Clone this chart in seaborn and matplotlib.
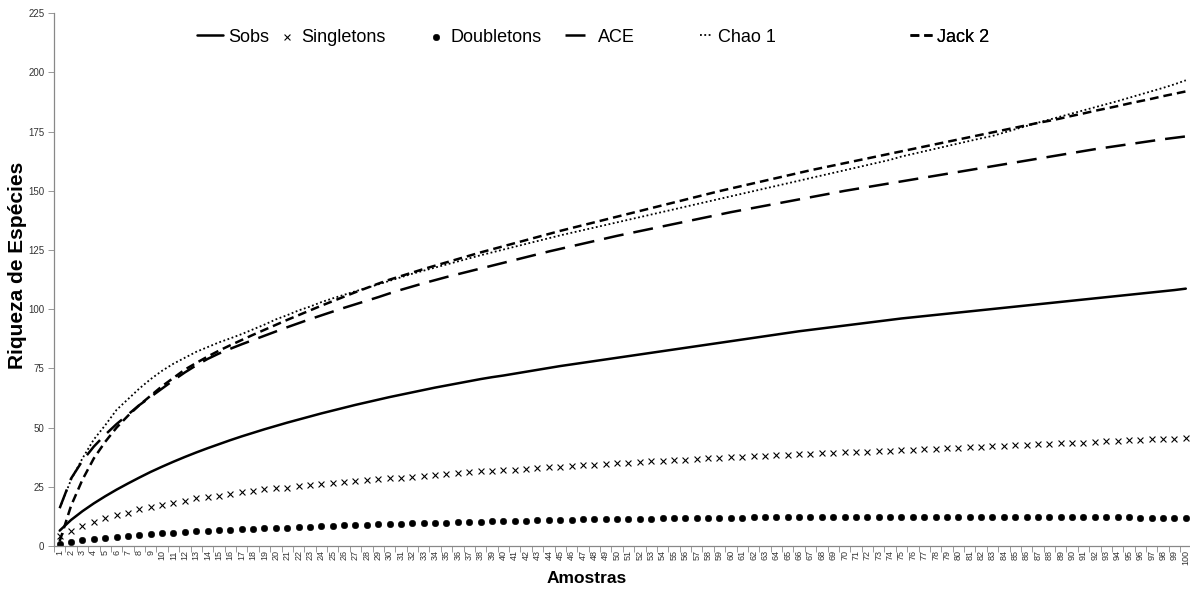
import numpy as np
import pandas as pd
import seaborn as sns
import matplotlib.pyplot as plt

amostras = list(range(1, 101))

sobs = [6.5, 11, 14.7, 18, 21, 23.8, 26.4, 28.9, 31.3, 33.5,
        35.6, 37.6, 39.5, 41.3, 43, 44.7, 46.3, 47.8, 49.3, 50.7,
        52.1, 53.4, 54.7, 56, 57.2, 58.4, 59.6, 60.7, 61.8, 62.9,
        63.9, 64.9, 65.9, 66.9, 67.8, 68.7, 69.6, 70.5, 71.3, 72,
        72.8, 73.6, 74.4, 75.2, 76, 76.7, 77.4, 78.1, 78.8, 79.5,
        80.2, 80.9, 81.6, 82.3, 83, 83.7, 84.4, 85.1, 85.8, 86.5,
        87.2, 87.9, 88.6, 89.3, 90, 90.7, 91.3, 91.9, 92.5, 93.1,
        93.7, 94.3, 94.9, 95.5, 96.1, 96.6, 97.1, 97.6, 98.1, 98.6,
        99.1, 99.6, 100.1, 100.6, 101.1, 101.6, 102.1, 102.6, 103.1, 103.6,
        104.1, 104.6, 105.1, 105.6, 106.1, 106.6, 107.1, 107.6, 108.1, 108.7]

singletons = [4.1, 6.4, 8.6, 10.3, 12, 13.1, 14.1, 15.6, 16.4, 17.4,
              18.3, 19.1, 20.1, 20.7, 21.3, 22, 22.6, 23.3, 23.9, 24.3,
              24.7, 25.3, 25.9, 26.3, 26.6, 27.1, 27.5, 27.9, 28.2, 28.6,
              28.8, 29.3, 29.7, 30.1, 30.4, 30.8, 31.1, 31.5, 31.7, 32,
              32.3, 32.6, 32.9, 33.2, 33.5, 33.8, 34.1, 34.3, 34.6, 34.9,
              35.2, 35.5, 35.7, 36, 36.2, 36.5, 36.7, 37, 37.2, 37.4,
              37.7, 37.9, 38.1, 38.3, 38.5, 38.7, 38.9, 39.1, 39.3, 39.5,
              39.7, 39.9, 40.1, 40.3, 40.5, 40.7, 40.9, 41.1, 41.3, 41.5,
              41.7, 41.9, 42.1, 42.3, 42.5, 42.7, 42.9, 43.1, 43.3, 43.6,
              43.7, 43.9, 44.2, 44.4, 44.6, 44.8, 45, 45.2, 45.4, 45.7]

doubletons = [1, 1.7, 2.4, 3, 3.5, 4, 4.4, 4.8, 5.1, 5.4,
              5.7, 6, 6.2, 6.4, 6.6, 6.8, 7, 7.2, 7.4, 7.6,
              7.8, 8, 8.2, 8.4, 8.5, 8.7, 8.8, 9, 9.1, 9.3,
              9.4, 9.6, 9.7, 9.8, 9.9, 10.1, 10.2, 10.3, 10.4, 10.5,
              10.6, 10.7, 10.8, 10.9, 11, 11.1, 11.2, 11.3, 11.3, 11.4,
              11.5, 11.5, 11.6, 11.7, 11.7, 11.8, 11.8, 11.9, 11.9, 12,
              12, 12.1, 12.1, 12.1, 12.2, 12.2, 12.2, 12.3, 12.3, 12.3,
              12.3, 12.4, 12.4, 12.4, 12.4, 12.4, 12.4, 12.4, 12.4, 12.4,
              12.4, 12.4, 12.4, 12.4, 12.4, 12.4, 12.4, 12.4, 12.3, 12.3,
              12.2, 12.2, 12.2, 12.1, 12.1, 12, 12, 12, 11.9, 11.9]

ace = [16, 28.5, 36, 42, 47, 51.5, 55.5, 59.5, 63, 66.5,
       70, 73.3, 76.3, 79, 81.3, 83.3, 85.2, 87, 88.8, 90.6,
       92.4, 94.1, 95.8, 97.4, 99, 100.6, 102.1, 103.6, 105.1, 106.7,
       108.2, 109.6, 111, 112.3, 113.6, 114.8, 116, 117.2, 118.4, 119.6,
       120.8, 122, 123.2, 124.4, 125.5, 126.6, 127.7, 128.8, 129.9, 131,
       132, 133, 134, 135, 136, 137, 138, 139, 140, 141,
       141.9, 142.8, 143.7, 144.6, 145.5, 146.4, 147.3, 148.2, 149.1, 150,
       150.8, 151.6, 152.4, 153.2, 154, 154.8, 155.6, 156.4, 157.2, 158,
       158.8, 159.6, 160.4, 161.2, 162, 162.8, 163.6, 164.4, 165.2, 166,
       166.8, 167.6, 168.3, 169, 169.7, 170.4, 171.1, 171.8, 172.4, 173]

chao1 = [16, 28, 37, 45, 51, 57.5, 62, 66.5, 70.5, 74,
         77, 79.5, 82, 84, 86, 87.7, 89.5, 91.5, 93.5, 95.7,
         97.5, 99.5, 101.1, 103, 104.6, 106.1, 107.6, 109, 110.5, 112,
         113.5, 115, 116.3, 117.6, 118.9, 120.2, 121.5, 122.8, 124, 125.2,
         126.4, 127.6, 128.8, 130, 131.2, 132.3, 133.4, 134.5, 135.6, 136.7,
         137.8, 138.9, 140, 141.1, 142.2, 143.3, 144.4, 145.5, 146.6, 147.7,
         148.8, 149.9, 151, 152.1, 153.2, 154.3, 155.4, 156.5, 157.6, 158.7,
         159.8, 160.9, 162, 163.1, 164.5, 165.6, 166.7, 167.8, 168.9, 170,
         171.1, 172.2, 173.2, 174.6, 176, 177.4, 178.8, 180.1, 181.4, 182.7,
         184, 185.3, 186.6, 187.9, 189.3, 190.7, 192.1, 193.5, 195, 196.7]

jack2 = [2, 17, 28, 37, 44, 50, 55, 59.5, 63.5, 67.5,
         71, 74.5, 77.3, 80, 82.5, 84.8, 87, 89.2, 91.3, 93.4,
         95.5, 97.5, 99.5, 101.5, 103.4, 105.3, 107.2, 109, 110.8, 112.5,
         114, 115.5, 117, 118.4, 119.8, 121.2, 122.6, 124, 125.3, 126.6,
         127.9, 129.2, 130.5, 131.8, 133.1, 134.3, 135.5, 136.7, 137.9, 139.1,
         140.3, 141.5, 142.7, 143.9, 145.1, 146.3, 147.5, 148.7, 149.9, 151,
         152.1, 153.2, 154.3, 155.4, 156.5, 157.6, 158.7, 159.7, 160.7, 161.7,
         162.7, 163.7, 164.7, 165.7, 166.7, 167.7, 168.7, 169.7, 170.7, 171.7,
         172.7, 173.7, 174.7, 175.7, 176.7, 177.7, 178.7, 179.6, 180.6, 181.7,
         182.7, 183.8, 184.8, 185.8, 186.9, 187.9, 188.9, 190, 191, 192]

df = pd.DataFrame({"Amostras": amostras, "Sobs": sobs, "Singletons": singletons,
                   "Doubletons": doubletons, "ACE": ace, "Chao 1": chao1, "Jack 2": jack2})

sns.set_theme(style="white")
plt.rcParams['font.family'] = ['Liberation Sans', 'DejaVu Sans']

fig = plt.figure(figsize=(11.9, 5.92), dpi=100)
ax = fig.add_axes([54 / 1190, 46 / 592, 1137.5 / 1190, 532.7 / 592])

# lines
sns.lineplot(data=df, x="Amostras", y="Sobs", ax=ax, color="black", lw=1.8, label="Sobs")
sns.lineplot(data=df, x="Amostras", y="ACE", ax=ax, color="black", lw=1.8,
             linestyle=(0, (8, 4)), label="ACE")
sns.lineplot(data=df, x="Amostras", y="Chao 1", ax=ax, color="black", lw=1.3,
             linestyle=(0, (1, 1.4)), label="Chao 1")
sns.lineplot(data=df, x="Amostras", y="Jack 2", ax=ax, color="black", lw=1.8,
             linestyle=(0, (3.5, 2)), label="Jack 2")
# markers
sns.scatterplot(data=df, x="Amostras", y="Singletons", ax=ax, marker="x", s=18,
                color="black", linewidth=0.8, label="Singletons")
sns.scatterplot(data=df, x="Amostras", y="Doubletons", ax=ax, marker="o", s=22,
                color="black", edgecolor="black", label="Doubletons")

ax.set_xlim(0.5, 100.5)
ax.set_ylim(0, 225)
ax.set_yticks(range(0, 226, 25))
ax.set_xticks(amostras)
ax.set_xticklabels([str(a) for a in amostras], rotation=90)
ax.set_xticks(np.arange(0.5, 101, 1), minor=True)
ax.tick_params(axis="x", which="major", length=0, labelsize=6.5, pad=3, colors="#333333")
ax.tick_params(axis="x", which="minor", length=4, width=0.6, color="#888888", bottom=True)
ax.tick_params(axis="y", which="major", length=4, width=0.6, color="#888888",
               labelsize=7, labelcolor="#333333", left=True, pad=3)

for s in ["top", "right"]:
    ax.spines[s].set_visible(False)
for s in ["left", "bottom"]:
    ax.spines[s].set_color("#888888")
    ax.spines[s].set_linewidth(0.9)

ax.set_xlabel("Amostras", fontsize=12.5, fontweight="bold", color="black")
ax.set_ylabel("Riqueza de Espécies", fontsize=15, fontweight="bold", color="black")
ax.xaxis.set_label_coords((587 - 54) / 1137.5, -25 / 532.7)
ax.yaxis.set_label_coords(-27 / 1137.5, (545.7 - 265) / 532.7)

handles, labels = ax.get_legend_handles_labels()
ax.get_legend().remove()
hmap = dict(zip(labels, handles))

# legend entries placed one by one
spots = [("Sobs", 197, 1.42), ("Singletons", 278, 1.0), ("Doubletons", 427, 1.0),
         ("ACE", 565, 1.53), ("Chao 1", 700, 0.7), ("Jack 2", 910, 1.2)]
for name, px, hl in spots:
    leg = ax.legend([hmap[name]], [name], loc="center left", frameon=False,
                    bbox_to_anchor=(px / 1190, 1 - 37 / 592), bbox_transform=fig.transFigure,
                    fontsize=13, handlelength=hl, handletextpad=0.3, borderpad=0,
                    borderaxespad=0, markerscale=1.0)
    for t in leg.get_texts():
        t.set_color("black")
    ax.add_artist(leg)

fig.savefig("out.png", dpi=100)
